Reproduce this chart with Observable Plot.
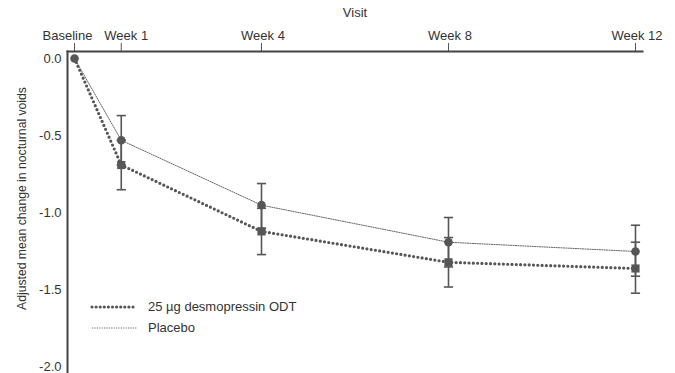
<!DOCTYPE html>
<html>
<head>
<meta charset="utf-8">
<script src="https://cdn.jsdelivr.net/npm/d3@7"></script>
<script src="https://cdn.jsdelivr.net/npm/@observablehq/plot@0.6"></script>
<style>
  body { margin: 0; background: #fff; }
  #wrap { position: relative; width: 675px; height: 373px; font-family: "Liberation Sans", Arial, sans-serif; }
  #legend { position: absolute; left: 90px; top: 296px; font-size: 13px; color: #333; line-height: 21px; }
  #legend .row { display: flex; align-items: center; height: 21px; }
  #legend svg { margin-right: 8px; }
</style>
</head>
<body>
<div id="wrap"></div>
<script>
const visits = ["Baseline", "Week 1", "Week 4", "Week 8", "Week 12"];
const weeks = [0, 1, 4, 8, 12];
const seriesNames = ["25 µg desmopressin ODT", "Placebo"];
const desmoMean = [0, -0.69, -1.12, -1.32, -1.36];
const desmoLower = [null, -0.85, -1.27, -1.48, -1.52];
const desmoUpper = [null, -0.53, -0.97, -1.16, -1.19];
const placeboMean = [0, -0.53, -0.95, -1.19, -1.25];
const placeboLower = [null, -0.69, -1.10, -1.35, -1.41];
const placeboUpper = [null, -0.37, -0.81, -1.03, -1.08];
const yTicks = [0, -0.5, -1.0, -1.5, -2.0];
const xTitle = "Visit";
const yTitle = "Adjusted mean change in nocturnal voids";

const gray = "#565656";
const desmo = weeks.map((w, i) => ({week: w, mean: desmoMean[i], lo: desmoLower[i], hi: desmoUpper[i]}));
const placebo = weeks.map((w, i) => ({week: w, mean: placeboMean[i], lo: placeboLower[i], hi: placeboUpper[i]}));
const bars = [...desmo, ...placebo].filter(d => d.lo != null);
const capSymbol = {
  draw(context, size) {
    const r = Math.sqrt(size / Math.PI);
    context.moveTo(-r, 0);
    context.lineTo(r, 0);
  }
};
const caps = bars.flatMap(d => [{week: d.week, v: d.lo}, {week: d.week, v: d.hi}]);
const fmtVisit = d => visits[weeks.indexOf(d)];

const chart = Plot.plot({
  width: 675,
  height: 373,
  marginLeft: 67,
  marginRight: 33,
  marginTop: 51,
  marginBottom: 0,
  style: {fontFamily: '"Liberation Sans", Arial, sans-serif', fontSize: "13px", color: "#333", background: "#fff"},
  x: {domain: [-0.15, 12.15]},
  y: {domain: [-2.04, 0.045]},
  marks: [
    Plot.axisX({anchor: "top", ticks: weeks, tickSize: 9, tickFormat: () => "", stroke: "#555", label: xTitle, labelAnchor: "center", labelOffset: 44, labelArrow: "none"}),
    Plot.axisX({anchor: "top", ticks: [0], tickSize: 0, tickPadding: 12, dx: -7, tickFormat: fmtVisit, label: null}),
    Plot.axisX({anchor: "top", ticks: [1], tickSize: 0, tickPadding: 12, dx: 5, tickFormat: fmtVisit, label: null}),
    Plot.axisX({anchor: "top", ticks: [4, 8, 12], tickSize: 0, tickPadding: 12, dx: 1.5, tickFormat: fmtVisit, label: null}),
    Plot.axisY({ticks: yTicks, tickSize: 0, tickPadding: 6, tickFormat: d => d.toFixed(1), label: null}),
    Plot.text([yTitle], {frameAnchor: "left", textAnchor: "middle", rotate: -90, dx: -45, dy: -14, fontSize: 12.2, fill: "#333"}),
    Plot.frame({anchor: "top", stroke: "#444", strokeWidth: 2}),
    Plot.frame({anchor: "left", stroke: "#444", strokeWidth: 2}),
    Plot.line(placebo, {x: "week", y: "mean", stroke: "#666", strokeWidth: 1, strokeDasharray: "1.2,1.2"}),
    Plot.line(desmo, {x: "week", y: "mean", stroke: gray, strokeWidth: 3.2, strokeDasharray: "0,4.3", strokeLinecap: "round"}),
    Plot.ruleX(bars, {x: "week", y1: "lo", y2: "hi", stroke: gray, strokeWidth: 1.6}),
    Plot.dot(caps, {x: "week", y: "v", symbol: capSymbol, r: 4.6, stroke: gray, strokeWidth: 1.6, fill: "none"}),
    Plot.dot(placebo, {x: "week", y: "mean", r: 4.3, fill: gray, stroke: "none"}),
    Plot.dot(desmo.filter(d => d.week > 0), {x: "week", y: "mean", symbol: "square", r: 4.6, fill: gray, stroke: "none"})
  ]
});
const wrap = document.getElementById("wrap");
wrap.appendChild(chart);

const legend = document.createElement("div");
legend.id = "legend";
legend.innerHTML = `
  <div class="row"><svg width="50" height="8"><line x1="2" y1="4" x2="47" y2="4" stroke="${gray}" stroke-width="3.2" stroke-dasharray="0,4.1" stroke-linecap="round"/></svg><span>${seriesNames[0]}</span></div>
  <div class="row"><svg width="50" height="8"><line x1="2" y1="4" x2="47" y2="4" stroke="#666" stroke-width="1" stroke-dasharray="1.2,1.2"/></svg><span>${seriesNames[1]}</span></div>`;
wrap.appendChild(legend);
</script>
</body>
</html>
